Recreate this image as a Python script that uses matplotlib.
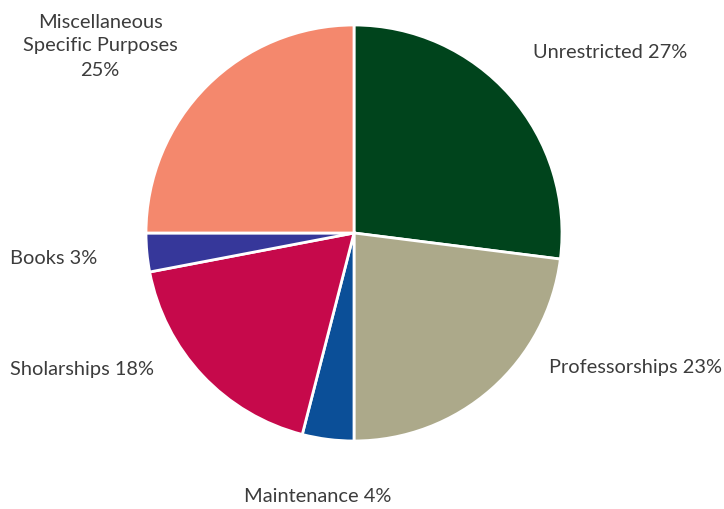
import matplotlib
matplotlib.use("Agg")
import matplotlib.pyplot as plt

# --- Data ---
labels = ["Unrestricted", "Professorships", "Maintenance",
          "Sholarships", "Books", "Miscellaneous\nSpecific Purposes"]
shares = [27, 23, 4, 18, 3, 25]
colors = ["#00441c", "#aca98a", "#0b4f98", "#c6094b", "#36379a", "#f4886d"]

# --- Style ---
FIG_W, FIG_H, DPI = 724, 510, 100
TEXT_COLOR = "#3c3c3c"
FONT = "Lato"
FONT_SIZE = 14.4

# label anchors in pixel coords (x, y from top) with alignment
label_pos = [
    (533, 52, "left", "center", "{} {}%"),
    (549, 368, "left", "center", "{} {}%"),
    (244, 497, "left", "center", "{} {}%"),
    (10, 370, "left", "center", "{} {}%"),
    (10, 258, "left", "center", "{} {}%"),
    (100, 46, "center", "center", "{}\n{}%"),
]

fig = plt.figure(figsize=(FIG_W / DPI, FIG_H / DPI), dpi=DPI)

# pie box: left 146, top 26, size 416 px
ax = fig.add_axes([146 / FIG_W, 1 - 442 / FIG_H, 416 / FIG_W, 416 / FIG_H])
ax.pie(shares, colors=colors, startangle=90, counterclock=False,
       wedgeprops=dict(edgecolor="white", linewidth=2))
ax.set_xlim(-1.0, 1.0)
ax.set_ylim(-1.0, 1.0)
ax.set_aspect("equal")
ax.axis("off")

for name, val, (px, py, ha, va, fmt) in zip(labels, shares, label_pos):
    fig.text(px / FIG_W, 1 - py / FIG_H, fmt.format(name, val),
             ha=ha, va=va, family=FONT, fontsize=FONT_SIZE,
             color=TEXT_COLOR, linespacing=1.5,
             multialignment="center")

fig.savefig("out.png", dpi=DPI)
